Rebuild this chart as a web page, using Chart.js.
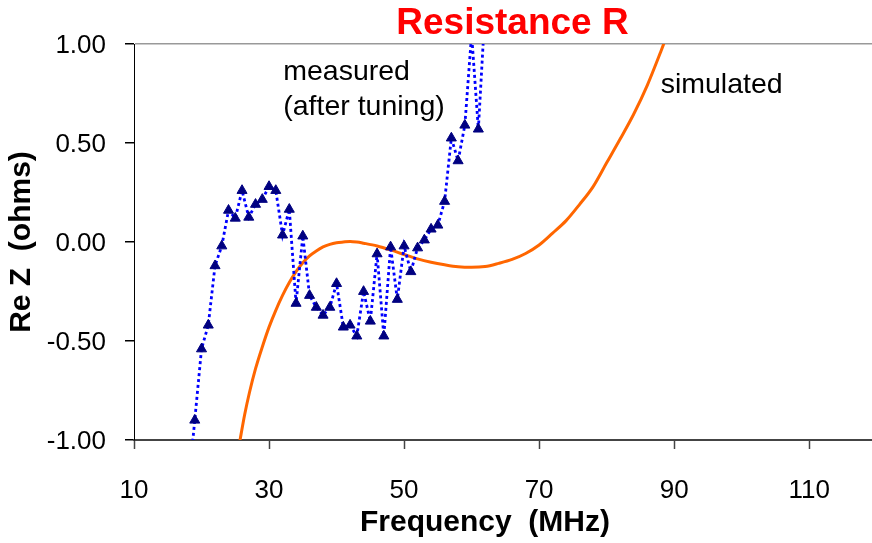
<!DOCTYPE html>
<html><head><meta charset="utf-8">
<script src="https://cdn.jsdelivr.net/npm/chart.js@4.4.1/dist/chart.umd.min.js"></script>
<style>html,body{margin:0;padding:0;background:#fff;overflow:hidden}</style>
</head><body>
<canvas id="c" width="872" height="543"></canvas>
<script>
// ---- data ----
const measuredFreq = [18,19,20,21,22,23,24,25,26,27,28,29,30,31,32,33,34,35,36,37,38,39,40,41,42,43,44,45,46,47,48,49,50,51,52,53,54,55,56,57,58,59,60,61,62];
const measuredRe   = [-1.25,-0.90,-0.54,-0.42,-0.12,-0.02,0.16,0.12,0.26,0.125,0.19,0.215,0.28,0.26,0.035,0.165,-0.31,0.03,-0.27,-0.33,-0.37,-0.33,-0.21,-0.43,-0.42,-0.475,-0.25,-0.40,-0.06,-0.475,-0.025,-0.29,-0.02,-0.15,-0.03,0.01,0.065,0.085,0.205,0.525,0.41,0.59,1.05,0.57,1.18];
const simFreq = [25.6,26.4,27.1,28,29,30,31,32,33,34,35,36,37,38,39,40,41,42,43,44,46,48,50,52,54,56,58,60,62,64,66,68,70,72,74,76,78,80,82,84,86,88,89];
const simRe   = [-1.02,-0.87,-0.76,-0.64,-0.53,-0.43,-0.345,-0.27,-0.205,-0.15,-0.105,-0.07,-0.045,-0.025,-0.012,-0.004,0.0,0.003,0.0,-0.006,-0.02,-0.04,-0.063,-0.085,-0.102,-0.115,-0.125,-0.128,-0.124,-0.108,-0.088,-0.058,-0.015,0.045,0.108,0.19,0.28,0.40,0.52,0.645,0.79,0.96,1.05];
const xTicks = [10,30,50,70,90,110];
const yTicks = [-1,-0.5,0,0.5,1];
const xMin = 10, xMax = 119.3, yMin = -1, yMax = 1;
const titleText = 'Resistance R';
const xTitle = 'Frequency  (MHz)';
const yTitle = 'Re Z  (ohms)';
const notes = [
  {text:'measured', x:32.1, y:0.82},
  {text:'(after tuning)', x:32.1, y:0.643},
  {text:'simulated', x:88.0, y:0.754}
];
// ---------------------------------------

const FONT = '"Liberation Sans", Arial, Helvetica, sans-serif';

const notesPlugin = {
  id:'notes',
  afterLayout(chart){
    const tb = chart.titleBlock;
    if (tb) { tb.left += 9.5; tb.right += 9.5; }
  },
  afterDraw(chart){
    const {ctx, chartArea, scales:{x, y}} = chart;
    ctx.save();
    ctx.font = '28.5px ' + FONT;
    ctx.fillStyle = '#000';
    ctx.textAlign = 'left';
    ctx.textBaseline = 'alphabetic';
    notes.forEach(n => ctx.fillText(n.text, x.getPixelForValue(n.x), y.getPixelForValue(n.y)));
    // x-axis title (offset left of the plot centre, as in the reference)
    ctx.font = 'bold 30px ' + FONT;
    ctx.textAlign = 'center';
    ctx.textBaseline = 'middle';
    ctx.fillText(xTitle, (chartArea.left + chartArea.right) / 2 - 18, chart.height - 20);
    ctx.restore();
  }
};

new Chart(document.getElementById('c'), {
  type:'line',
  data:{
    datasets:[
      {
        label:'measured (after tuning)',
        data: measuredFreq.map((f,i)=>({x:f, y:measuredRe[i]})),
        borderColor:'#0000FF', borderWidth:2.8, borderDash:[3,3],
        pointStyle:'triangle', pointRadius:5.8, pointHoverRadius:5.8,
        pointBackgroundColor:'#000080', pointBorderColor:'#000080', pointBorderWidth:1,
        tension:0, fill:false
      },
      {
        label:'simulated',
        data: simFreq.map((f,i)=>({x:f, y:simRe[i]})),
        borderColor:'#FF6600', borderWidth:3,
        pointRadius:0, cubicInterpolationMode:'monotone', fill:false
      }
    ]
  },
  options:{
    responsive:false, animation:false, devicePixelRatio:1,
    layout:{padding:0, autoPadding:false},
    plugins:{
      legend:{display:false}, tooltip:{enabled:false},
      title:{display:true, text:titleText, color:'#FF0000', fullSize:false,
        font:{family:FONT, size:37, weight:'bold', lineHeight:1},
        padding:{top:5.5, bottom:1.5}}
    },
    scales:{
      x:{
        type:'linear', min:xMin, max:xMax,
        afterBuildTicks:s=>{ s.ticks = xTicks.map(v=>({value:v})); },
        afterFit:s=>{ s.height = 103; s.paddingRight = 0; s.paddingLeft = 0; },
        grid:{drawOnChartArea:false, tickLength:9, color:'#444', tickColor:'#444', tickWidth:1.5},
        border:{color:'#444', width:2},
        ticks:{font:{family:FONT, size:26}, color:'#000', padding:26, maxRotation:0, autoSkip:false},
        title:{display:false, text:xTitle}
      },
      y:{
        type:'linear', min:yMin, max:yMax,
        afterBuildTicks:s=>{ s.ticks = yTicks.map(v=>({value:v})); },
        afterFit:s=>{ s.width = 134; },
        grid:{color:c=> (c.tick && c.tick.value===yMax) ? '#999' : 'rgba(0,0,0,0)', tickColor:'#000', tickLength:9, lineWidth:1.5},
        border:{color:'#000', width:1},
        ticks:{font:{family:FONT, size:26}, color:'#000', padding:19, labelOffset:2, callback:v=>Number(v).toFixed(2)},
        title:{display:true, text:yTitle, color:'#000', font:{family:FONT, size:30, weight:'bold'}, padding:{top:4, bottom:0}}
      }
    }
  },
  plugins:[notesPlugin]
});
</script>
</body></html>
